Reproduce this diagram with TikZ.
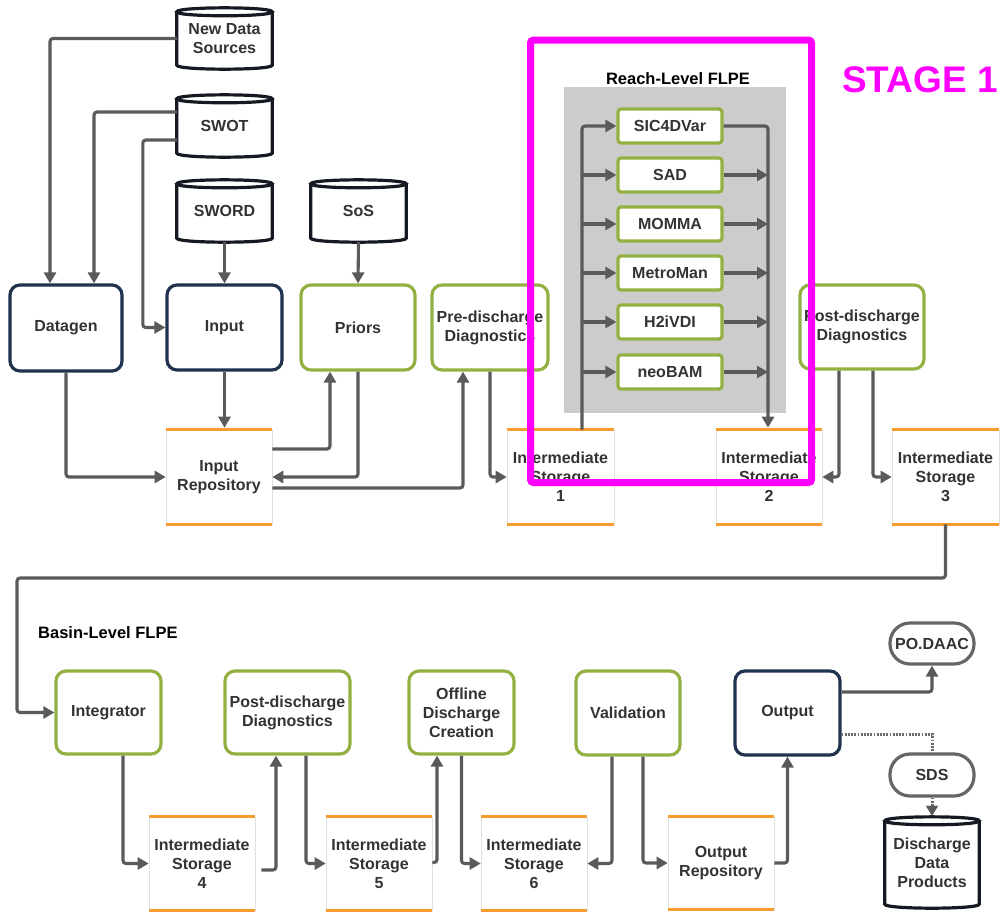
\documentclass[tikz,border=0pt]{standalone}
\usepackage{fontspec}
\setmainfont{Liberation Sans}
\usetikzlibrary{arrows.meta}
\definecolor{navy}{HTML}{21324F}
\definecolor{lgreen}{HTML}{93B143}
\definecolor{orng}{HTML}{F89C2D}
\definecolor{wirec}{HTML}{5A5A5A}
\definecolor{txt}{HTML}{333333}
\definecolor{bgray}{HTML}{CCCCCC}
\definecolor{mag}{HTML}{FF00FF}
\definecolor{cylc}{HTML}{151A22}
\tikzset{
  base/.style={inner sep=0pt, align=center, font=\fontsize{16}{19}\selectfont\bfseries, text=txt},
  navybox/.style={base, draw=navy, line width=3.2pt, rounded corners=10pt, fill=white, minimum height=85pt},
  greenbox/.style={base, draw=lgreen, line width=3.2pt, rounded corners=10pt, fill=white, minimum height=85pt},
  algbox/.style={base, draw=lgreen, line width=3.2pt, rounded corners=3pt, fill=white, minimum width=104pt, minimum height=34pt},
  storebox/.style={base, draw=black!12, line width=0.6pt, fill=white, minimum width=106pt, minimum height=93pt},
  cylbox/.style={base, minimum width=95pt, minimum height=62pt},
  pill/.style={base, draw=black!60, line width=3.2pt, rounded corners=20pt, fill=white, minimum width=84pt, minimum height=41pt},
  wire/.style={draw=wirec, line width=3.1pt, rounded corners=3pt, -{Triangle[length=11pt,width=12pt]}},
  dotwire/.style={draw=wirec!90, line width=3pt, dash pattern=on 1.8pt off 1.4pt},
  orangeline/.style={draw=orng, line width=3.3pt},
  heading/.style={inner sep=0pt, font=\fontsize{16.5}{19}\selectfont\bfseries, text=black},
  cylline/.style={line width=3.2pt, draw=cylc, fill=white},
}
\begin{document}
\begin{tikzpicture}[x=1pt,y=-1pt]
\useasboundingbox (0,0) rectangle (1003,911);

% cylinders (sources)
\node[cylbox, minimum height=61pt] (nds) at (224.5,38.5) {};
\node[cylbox] (swot) at (224.5,126) {};
\node[cylbox] (sword) at (224.5,211) {};
\node[cylbox] (sos) at (358.5,211) {};
\node[cylbox, minimum width=94pt, minimum height=91pt] (ddp) at (932,862.5) {};

\foreach \n in {nds,swot,sword,sos,ddp}{
  \draw[cylline]
    ([yshift=-4pt]\n.north west) -- ([yshift=4pt]\n.south west)
    .. controls ([yshift=-1.3pt]\n.south west) and ([yshift=-1.3pt]\n.south east) ..
    ([yshift=4pt]\n.south east) -- ([yshift=-4pt]\n.north east);
  \draw[cylline]
    ([yshift=-4pt]\n.north west) .. controls ([yshift=1.3pt]\n.north west) and ([yshift=1.3pt]\n.north east) ..
    ([yshift=-4pt]\n.north east) .. controls ([yshift=-9.3pt]\n.north east) and ([yshift=-9.3pt]\n.north west) ..
    ([yshift=-4pt]\n.north west) -- cycle;
}
\node[base] at (nds.center) {New Data\\Sources};
\node[base] at (swot.center) {SWOT};
\node[base] at (sword.center) {SWORD};
\node[base] at (sos.center) {SoS};
\node[base] at (ddp.center) {Discharge\\Data\\Products};

% top row processes
\node[navybox, minimum width=112pt, minimum height=86pt] (datagen) at (66,328) {Datagen};
\node[navybox, minimum width=115pt] (input) at (224.5,327.5) {Input};
\node[greenbox, minimum width=114pt] (priors) at (358,327.5) {Priors};
\node[greenbox, minimum width=116pt] (pre) at (490,327.5) {Pre-discharge\\Diagnostics};
\node[greenbox, minimum width=124pt, minimum height=84pt] (post) at (862,327) {Post-discharge\\Diagnostics};

% storages top
\node[storebox, minimum height=94pt] (repo) at (219,477) {Input\\Repository};
\node[storebox, minimum width=107pt, minimum height=94pt] (is1) at (560.5,477) {Intermediate\\Storage\\1};
\node[storebox, minimum height=94pt] (is2) at (769,477) {Intermediate\\Storage\\2};
\node[storebox, minimum width=107pt, minimum height=94pt] (is3) at (945.5,477) {Intermediate\\Storage\\3};

% reach level
\node[fill=bgray, minimum width=222pt, minimum height=326pt, inner sep=0pt] (reachbg) at (675,250) {};
\node[heading] (reachlbl) at (678,79) {Reach-Level FLPE};
\node[inner sep=0pt, anchor=west, font=\fontsize{37}{40}\selectfont\bfseries, text=mag] (stage) at (842,80) {STAGE 1};
\node[algbox] (sic) at (670,126) {SIC4DVar};
\node[algbox] (sad) at (670,175) {SAD};
\node[algbox] (momma) at (670,224) {MOMMA};
\node[algbox] (metro) at (670,273) {MetroMan};
\node[algbox] (h2i) at (670,322) {H2iVDI};
\node[algbox] (neo) at (670,372) {neoBAM};
\coordinate (lbus) at (582,126);
\coordinate (rbus) at (768,126);

% bottom row
\node[heading, anchor=west] (basinlbl) at (38,633) {Basin-Level FLPE};
\node[greenbox, minimum width=105pt, minimum height=83pt] (integ) at (108.5,712.5) {Integrator};
\node[greenbox, minimum width=125pt, minimum height=83pt] (post2) at (287.5,712.5) {Post-discharge\\Diagnostics};
\node[greenbox, minimum width=105pt, minimum height=83pt] (offline) at (461.5,712.5) {Offline\\Discharge\\Creation};
\node[greenbox, minimum width=104pt, minimum height=84pt] (valid) at (628,713) {Validation};
\node[navybox, minimum width=105pt, minimum height=84pt] (output) at (787.5,713) {Output};
\node[storebox] (is4) at (202,863.5) {Intermediate\\Storage\\4};
\node[storebox] (is5) at (379,863.5) {Intermediate\\Storage\\5};
\node[storebox] (is6) at (534,863.5) {Intermediate\\Storage\\6};
\node[storebox, minimum height=92pt] (orep) at (721,863) {Output\\Repository};
\node[pill] (podaac) at (932,643.5) {PO.DAAC};
\node[pill, minimum height=42pt] (sds) at (932,775) {SDS};

\foreach \n in {repo,is1,is2,is3,is4,is5,is6,orep}{
  \draw[orangeline] (\n.north west) -- (\n.north east);
  \draw[orangeline] (\n.south west) -- (\n.south east);
}

% connectors top
\draw[wire] (nds.west) -| ([xshift=-16pt]datagen.north);
\draw[wire] ([yshift=14pt]swot.west) -| ([xshift=28pt]datagen.north);
\draw[wire] ([yshift=-14pt]swot.west) -- ++(-34,0) |- (input.west);
\draw[wire] (sword.south) -- (input.north);
\draw[wire] (sos.south) -- (priors.north);
\draw[wire] (input.south) -- ([yshift=2pt]input.south |- repo.north);
\draw[wire] (datagen.south) |- (repo.west);
\draw[wire] ([yshift=28pt]repo.east) -| ([xshift=-28pt]priors.south);
\draw[wire] (priors.south) |- (repo.east);
\draw[wire] ([yshift=-11pt]repo.east) -| ([xshift=-27pt]pre.south);
\draw[wire] (pre.south) |- (is1.west);
\draw[wire] ([xshift=21.5pt]is1.north) |- (sic.west);
\foreach \a in {sad,momma,metro,h2i,neo}{
  \draw[wire] (\a.west -| lbus) -- (\a.west);
  \draw[wire] (\a.east) -- (\a.east -| rbus);
}
\draw[wire] (sic.east) -| ([xshift=-1pt,yshift=2pt]is2.north);
\draw[wire] ([xshift=-23pt]post.south) |- (is2.east);
\draw[wire] ([xshift=11pt]post.south) |- (is3.west);
\coordinate (loopl) at (17,578);
\draw[wire] (is3.south) |- (loopl) |- (integ.west);

% connectors bottom
\draw[wire] ([xshift=14.5pt]integ.south) |- (is4.west);
\draw[wire] ([yshift=-6.5pt,xshift=6pt]is4.east) -| ([xshift=-11.5pt]post2.south);
\draw[wire] ([yshift=1pt]is5.east) -| ([xshift=-24.5pt]offline.south);
\draw[wire] ([xshift=18.5pt]post2.south) |- (is5.west);
\draw[wire] (offline.south) |- (is6.west);
\draw[wire] ([xshift=-16pt]valid.south) |- (is6.east);
\draw[wire] ([xshift=15pt]valid.south) |- (orep.west);
\draw[wire] (orep.east) -| (output.south);
\draw[wire] ([yshift=21pt]output.east) -| (podaac.south);
\draw[dotwire] ([yshift=-21pt]output.east) -| (sds.north);
\draw[dotwire] (sds.south) -- ([yshift=10pt]ddp.north);
\draw[wirec, fill=wirec, line width=0.1pt] ([yshift=11pt,xshift=-6pt]ddp.north) -- ([yshift=11pt,xshift=6pt]ddp.north) -- ([yshift=1pt]ddp.north) -- cycle;

% stage 1 frame
\draw[mag, line width=7pt, rounded corners=3pt] (530.5,40) rectangle (811.5,482.5);
\end{tikzpicture}
\end{document}
